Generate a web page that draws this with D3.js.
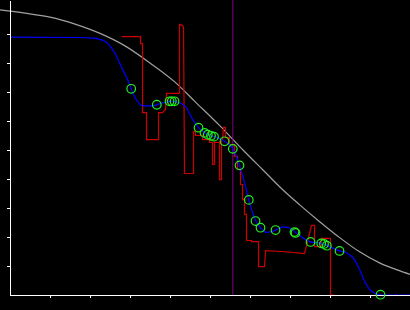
<!DOCTYPE html>
<html lang="en">
<head>
    <meta charset="UTF-8">
    <title>curve chart</title>
    <script src="https://d3js.org/d3.v7.min.js"></script>
    <style>
        *{
            margin: 0;
            padding: 0;
        }
        body{
            background: #000;
        }
        .axis path, .axis line{
            fill: none;
            stroke: #fff;
            shape-rendering: crispEdges;
        }
    </style>
</head>
<body>
    <div id="content"></div>

    <script>
        // smooth gray reference curve
        var grayX = [-0.25,0.375,1.0,1.625,2.25,2.875,3.5,4.125,4.625,5.25,5.825,6.325,6.825,7.25,7.75,8.25,8.75,9.25,9.75,10];
        var grayY = [0.983,0.972,0.958,0.934,0.902,0.859,0.800,0.734,0.667,0.583,0.500,0.431,0.362,0.310,0.252,0.197,0.148,0.110,0.083,0.071];

        // blue smoothed series
        var blueX = [0,1.663,1.938,2.163,2.413,2.613,2.813,2.938,3.03,3.155,3.313,3.488,3.613,3.67,3.863,3.988,4.113,4.238,4.405,4.538,4.713,4.863,4.945,5.055,5.155,5.363,5.57,5.738,5.863,5.97,6.138,6.263,6.405,6.538,6.638,6.82,6.988,7.138,7.313,7.513,7.78,7.92,8.238,8.405,8.613,8.738,8.863,8.988,9.155,9.263,10];
        var blueY = [0.889,0.888,0.887,0.884,0.871,0.836,0.778,0.743,0.711,0.674,0.653,0.652,0.653,0.656,0.664,0.668,0.668,0.663,0.647,0.612,0.577,0.560,0.553,0.548,0.544,0.530,0.504,0.447,0.388,0.328,0.257,0.232,0.216,0.219,0.224,0.235,0.231,0.216,0.198,0.183,0.178,0.171,0.152,0.146,0.122,0.088,0.048,0.019,0.004,0,0];

        // red raw series (steps)
        var redX = [2.788,3.263,3.263,3.313,3.313,3.413,3.413,3.713,3.713,3.813,3.888,3.913,4.238,4.238,4.313,4.338,4.363,4.588,4.588,4.638,4.638,4.813,4.813,4.988,4.988,5.063,5.063,5.113,5.113,5.238,5.238,5.288,5.288,5.313,5.338,5.388,5.388,5.488,5.488,5.613,5.613,5.688,5.688,5.763,5.763,5.813,5.813,5.863,5.863,5.913,5.913,6.038,6.038,6.213,6.213,6.363,6.388,6.813,7.363,7.538,7.613,7.613,7.788,7.788,8.013,8.013,8.113];
        var redY = [0.891,0.891,0.867,0.867,0.629,0.629,0.536,0.536,0.629,0.629,0.640,0.695,0.695,0.933,0.929,0.922,0.419,0.419,0.564,0.564,0.550,0.550,0.536,0.536,0.526,0.526,0.450,0.450,0.526,0.526,0.398,0.398,0.536,0.536,0.578,0.578,0.543,0.543,0.519,0.519,0.478,0.478,0.433,0.433,0.381,0.381,0.329,0.329,0.278,0.278,0.188,0.188,0.184,0.184,0.098,0.098,0.153,0.150,0.143,0.240,0.240,0.167,0.167,0.195,0.195,0,0];

        // green markers
        var markX = [3.03,3.67,3.988,4.045,4.113,4.713,4.863,4.945,5.025,5.1,5.363,5.57,5.738,5.97,6.138,6.263,6.638,7.113,7.138,7.513,7.78,7.85,7.92,8.238,9.263];
        var markY = [0.711,0.656,0.668,0.668,0.668,0.577,0.559,0.553,0.549,0.546,0.530,0.504,0.447,0.328,0.255,0.232,0.224,0.217,0.214,0.183,0.178,0.176,0.170,0.152,0.001];

        // vertical cut line
        var cutX = 5.57;

        var xTicks = [1,2,3,4,5,6,7,8,9];
        var yTicks = [0.1,0.2,0.3,0.4,0.5,0.6,0.7,0.8,0.9];

        var width = 410;
        var height = 310;

        var svg = d3.select("#content")
                .append("svg")
                .attr("width", width).attr("height", height);

        /* scales */
        var xScale = d3.scaleLinear().domain([0, 10]).range([10, 410]);
        var yScale = d3.scaleLinear().domain([0, 295 / 290]).range([295, 0]);

        function toPts(xs, ys){
            return xs.map(function(d, i){ return {x: d, y: ys[i]}; });
        }

        var line = d3.line()
                .x(function(d){ return xScale(d.x); })
                .y(function(d){ return yScale(d.y); });

        // gray curve
        svg.append("path")
                .attr("d", line.curve(d3.curveMonotoneX)(toPts(grayX, grayY)))
                .attr("fill", "none")
                .attr("stroke", "#a0a0a0")
                .attr("stroke-width", 1.2);

        // cut line
        svg.append("line")
                .attr("x1", xScale(cutX)).attr("x2", xScale(cutX))
                .attr("y1", 0).attr("y2", yScale(0))
                .attr("stroke", "#800080")
                .attr("stroke-width", 1);

        // red steps
        svg.append("path")
                .attr("d", line.curve(d3.curveLinear)(toPts(redX, redY)))
                .attr("fill", "none")
                .attr("stroke", "#cc0000")
                .attr("stroke-width", 1.2);

        // blue curve
        svg.append("path")
                .attr("d", line.curve(d3.curveMonotoneX)(toPts(blueX, blueY)))
                .attr("fill", "none")
                .attr("stroke", "#0000ff")
                .attr("stroke-width", 1.2);

        // axes
        svg.append("g").attr("class", "axis")
                .attr("transform", "translate(0," + yScale(0) + ")")
                .call(d3.axisBottom(xScale).tickValues(xTicks).tickSize(3).tickSizeOuter(0).tickFormat(""));

        svg.append("g").attr("class", "axis")
                .attr("transform", "translate(" + xScale(0) + ",0)")
                .call(d3.axisLeft(yScale).tickValues(yTicks).tickSize(3).tickSizeOuter(0).tickFormat(""));

        // markers
        svg.selectAll("circle.mark").data(toPts(markX, markY))
                .enter().append("circle")
                .attr("class", "mark")
                .attr("cx", function(d){ return xScale(d.x); })
                .attr("cy", function(d){ return yScale(d.y); })
                .attr("r", 4.3)
                .attr("fill", "none")
                .attr("stroke", "#22ee22")
                .attr("stroke-width", 1.2);
    </script>
</body>
</html>
